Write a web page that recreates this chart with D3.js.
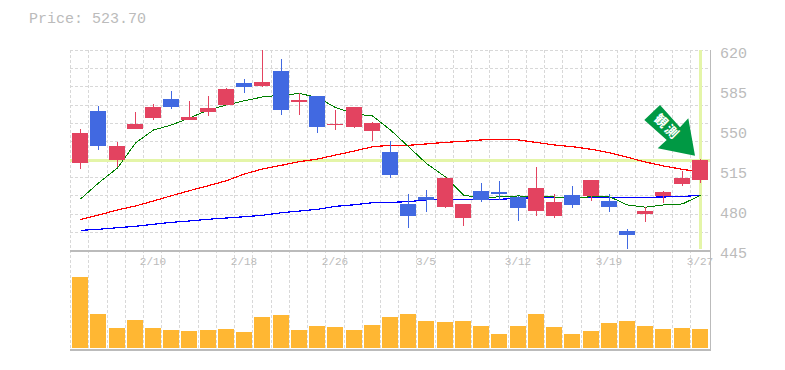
<!DOCTYPE html>
<html>
<head>
<meta charset="utf-8">
<script src="https://cdnjs.cloudflare.com/ajax/libs/d3/7.8.5/d3.min.js"></script>
<style>
	html, body { margin: 0; padding: 0; background: #fff; }
	svg { display: block; }
	text { font-family: "Liberation Mono", monospace; fill: #bbb; }
</style>
</head>
<body>
<div id="chart"></div>
<script>
	const lastPrice = 523.70;
	const priceTicks = [620, 585, 550, 515, 480, 445];
	// labelled every fifth session
	const dateLabels = {4: '2/10', 9: '2/18', 14: '2/26', 19: '3/5', 24: '3/12', 29: '3/19', 34: '3/27'};

	const opens = [521.1, 566.6, 523.8, 550.9, 560.5, 577.1, 558.8, 565.8, 571.9, 591.1, 588.5, 601.6, 574.5, 579.8, 554.4, 552.6, 549.1, 530.8, 485.3, 491.4, 482.6, 473, 496.6, 495.8, 491.4, 479.1, 474.8, 493.1, 492.3, 487.9, 461.6, 476.5, 492.3, 502.8, 506.3];
	const closes = [547.4, 536, 536, 555.3, 570.1, 570.1, 561.4, 569.3, 585.9, 587.6, 592, 567.5, 576.3, 552.6, 555.3, 570.1, 556.1, 510.6, 474.8, 488.8, 508, 485.3, 488.8, 494, 481.8, 499.3, 487, 484.4, 506.3, 482.6, 458.1, 479.1, 495.8, 508, 523.7];
	const highs = [550.9, 571, 539.5, 565.8, 572.8, 584.1, 575.4, 579.8, 586.8, 594.6, 620, 612.1, 582.4, 579.8, 567.5, 570.1, 557, 540.4, 494, 497.5, 508.9, 485.3, 503.6, 505.4, 492.3, 517.6, 494, 501, 506.3, 494, 463.4, 482.6, 496.6, 514.1, 524.6];
	const lows = [515.9, 532.5, 517.6, 550.9, 558.8, 568.4, 558.8, 562.3, 571.9, 582.4, 587.6, 563.1, 563.1, 547.4, 550, 551.8, 540.4, 508, 464.3, 478.3, 481.8, 466, 487, 488.8, 470.4, 474.8, 473, 481.8, 487.9, 478.3, 445.9, 469.5, 486.1, 501, 503.6];
	const volumes = [71, 34, 20, 28, 20, 18, 17, 18, 19, 16, 31, 33, 18, 22, 21, 18, 23, 31, 34, 27, 26, 27, 22, 14, 22, 34, 21, 14, 17, 25, 27, 22, 19, 20, 19];

	const maShort = [489.6, 503.6, 516.8, 538.6, 550, 554.4, 560.5, 567.5, 571.9, 575.6, 578.9, 580.6, 581.9, 578.6, 569.7, 564, 562.3, 550, 535.4, 520.7, 508.9, 493.1, 490.5, 491.6, 492.3, 491.4, 491.4, 490.5, 491.6, 491.6, 484.4, 482.4, 484.4, 485.3, 492.9];
	const maMid = [471.7, 475.6, 480, 483.5, 487.9, 492.5, 496.9, 501.3, 505.6, 511.5, 515.9, 519.1, 522.3, 524.6, 528.1, 531.6, 535.4, 536.6, 536.6, 537.8, 539.2, 540.1, 541.3, 541.9, 541.3, 539.1, 536.9, 535.4, 533.1, 530.1, 526.1, 522, 518.5, 515.6, 513.3];
	const maLong = [462.2, 463.1, 464.5, 465.7, 467.5, 469.2, 470.4, 471.9, 473, 474.1, 475.4, 477.6, 479.1, 480.6, 483.2, 484.6, 486.4, 486.7, 487.3, 488.8, 489.4, 489.4, 489.4, 489.4, 490.2, 490.8, 491.1, 491.1, 491.1, 491.1, 491.1, 491.1, 491.4, 491.8, 492.9];

	const width = 785;
	const height = 370;
	const left = 70;
	const right = 710;
	const priceTop = 50;
	const priceBottom = 250;
	const volBottom = 349;

	const upColor = '#e34360';
	const downColor = '#4169e1';
	const gridColor = '#d8d8d8';
	const axisColor = '#bbb';
	const markColor = '#e4f5a8';

	const indexes = d3.range(opens.length);
	const x = d3.scaleBand().domain(indexes).range([71, 709]);
	const cx = i => Math.round(x(i) + x.bandwidth() / 2);
	const y = d3.scaleLinear().domain([445, 620]).range([priceBottom, priceTop]);
	const yVol = d3.scaleLinear().domain([0, 100]).range([volBottom - 1, volBottom - 101]);

	const svg = d3.select('#chart')
		.append('svg')
		.attr('width', width)
		.attr('height', height);

	svg.append('text')
		.attr('x', 29)
		.attr('y', 23)
		.style('font-size', '15px')
		.text(`Price: ${lastPrice.toFixed(2)}`);

	/* GRID */
	const grid = svg.append('g')
		.attr('stroke', gridColor)
		.attr('stroke-dasharray', '3,2')
		.attr('shape-rendering', 'crispEdges');

	grid.selectAll('line.h')
		.data(d3.range(0, 11))
		.enter()
		.append('line')
		.attr('class', 'h')
		.attr('x1', left)
		.attr('x2', right)
		.attr('y1', d => Math.round(priceTop + d * (priceBottom - priceTop) / 11) + 0.5)
		.attr('y2', d => Math.round(priceTop + d * (priceBottom - priceTop) / 11) + 0.5);

	grid.selectAll('line.v')
		.data(indexes)
		.enter()
		.append('line')
		.attr('class', 'v')
		.attr('x1', d => cx(d) - 9.5)
		.attr('x2', d => cx(d) - 9.5)
		.attr('y1', priceTop)
		.attr('y2', volBottom);

	/* HIGHLIGHT OF LAST CLOSE */
	const marks = svg.append('g')
		.attr('stroke', markColor)
		.attr('stroke-width', 3)
		.attr('shape-rendering', 'crispEdges');

	marks.append('line')
		.attr('x1', left)
		.attr('x2', right)
		.attr('y1', Math.round(y(lastPrice)) + 0.5)
		.attr('y2', Math.round(y(lastPrice)) + 0.5);

	marks.append('line')
		.attr('x1', cx(34) + 0.5)
		.attr('x2', cx(34) + 0.5)
		.attr('y1', priceTop)
		.attr('y2', priceBottom - 1);

	/* AXES */
	const axes = svg.append('g')
		.attr('stroke', axisColor)
		.attr('shape-rendering', 'crispEdges');

	axes.append('line')
		.attr('stroke-width', 1)
		.attr('x1', right + 0.5)
		.attr('x2', right + 0.5)
		.attr('y1', priceTop)
		.attr('y2', volBottom + 1);

	[priceBottom, volBottom].forEach(v => {
		axes.append('line')
			.attr('x1', left)
			.attr('x2', right + 1)
			.attr('y1', v + 0.5)
			.attr('y2', v + 0.5)
			.attr('stroke-width', 2);
	});

	svg.selectAll('text.price')
		.data(priceTicks)
		.enter()
		.append('text')
		.attr('class', 'price')
		.attr('x', 720)
		.attr('y', d => y(d) + 8)
		.style('font-size', '15px')
		.text(d => d);

	svg.selectAll('text.date')
		.data(Object.keys(dateLabels))
		.enter()
		.append('text')
		.attr('class', 'date')
		.attr('x', d => cx(+d))
		.attr('y', 265)
		.style('font-size', '11px')
		.style('text-anchor', 'middle')
		.text(d => dateLabels[d]);

	/* VOLUME */
	svg.selectAll('rect.vol')
		.data(volumes)
		.enter()
		.append('rect')
		.attr('class', 'vol')
		.attr('x', (d, i) => cx(i) - 8)
		.attr('width', 16)
		.attr('y', d => yVol(d))
		.attr('height', d => yVol(0) - yVol(d))
		.style('fill', '#ffb733');

	/* MOVING AVERAGES */
	const line = d3.line()
		.x((d, i) => cx(i) + 0.5)
		.y(d => y(d));

	[[maLong, 'blue', 1.2], [maMid, 'red', 1.2], [maShort, 'green', 1]].forEach(([series, color, w]) => {
		svg.append('path')
			.attr('d', line(series))
			.attr('fill', 'none')
			.attr('stroke', color)
			.attr('stroke-width', w)
			.attr('shape-rendering', 'crispEdges');
	});

	/* CANDLES */
	const candles = svg.selectAll('g.candle')
		.data(indexes)
		.enter()
		.append('g')
		.attr('class', 'candle')
		.attr('shape-rendering', 'crispEdges')
		.style('fill', i => closes[i] >= opens[i] ? upColor : downColor)
		.style('stroke', i => closes[i] >= opens[i] ? upColor : downColor);

	candles.append('line')
		.attr('x1', i => cx(i) + 0.5)
		.attr('x2', i => cx(i) + 0.5)
		.attr('y1', i => y(highs[i]))
		.attr('y2', i => y(lows[i]));

	candles.append('rect')
		.attr('x', i => cx(i) - 8)
		.attr('width', 16)
		.attr('y', i => y(Math.max(opens[i], closes[i])))
		.attr('height', i => Math.abs(y(opens[i]) - y(closes[i])))
		.style('stroke', 'none');

	/* ARROW SIGN */
	const arrowShape = [[660, 105], [644.3, 120], [666.7, 140], [657.7, 148.3], [695, 155.7], [688.3, 118.3], [680, 127.3]];
	svg.append('polygon')
		.attr('points', arrowShape.map(p => p.join(',')).join(' '))
		.style('fill', '#009944');

	svg.append('text')
		.attr('transform', 'translate(667, 127) rotate(45)')
		.style('fill', '#fff')
		.style('font-family', '"Noto Sans CJK JP"')
		.style('font-size', '13px')
		.style('font-weight', 700)
		.style('letter-spacing', '2px')
		.style('text-anchor', 'middle')
		.attr('dy', '0.35em')
		.text('観測');
</script>
</body>
</html>
